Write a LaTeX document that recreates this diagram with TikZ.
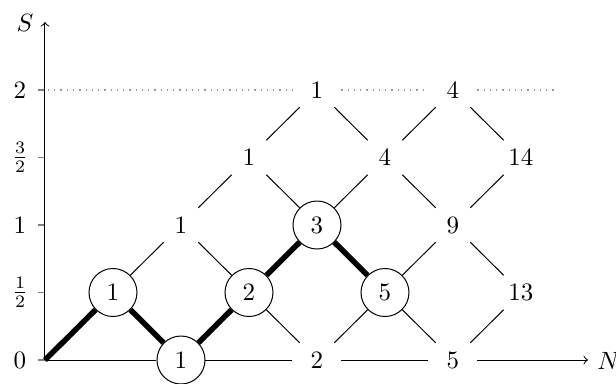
\documentclass[tikz,border=0pt]{standalone}
\begin{document}
\begin{tikzpicture}[x=0.4pt,y=-0.4pt,
  lat/.style={circle, minimum size=19.2pt, inner sep=0pt},
  ring/.style={lat, draw, line width=0.4pt},
  latline/.style={line width=0.4pt},
  heavypath/.style={line width=2.2pt},
  axline/.style={line width=0.4pt},
  axtick/.style={gray, line width=0.6pt},
  ticklab/.style={inner sep=0pt},
  guide/.style={dotted, gray!80, line width=0.5pt}]
\useasboundingbox (0,0) rectangle (616,383);
\coordinate (o) at (45,360);
\coordinate (stop) at (45,22);
\coordinate (ntop) at (588,360);
\coordinate (dstart) at (48,90);
\coordinate (dend) at (555,90);
% lattice nodes
\node[ring] (a11) at (113,292.5) {1};
\node[ring] (a20) at (181,360) {1};
\node[lat]  (a22) at (181,225) {1};
\node[ring] (a31) at (249,292.5) {2};
\node[lat]  (a33) at (249,157.5) {1};
\node[lat]  (a40) at (317,360) {2};
\node[ring] (a42) at (317,225) {3};
\node[lat]  (a44) at (317,90) {1};
\node[ring] (a51) at (385,292.5) {5};
\node[lat]  (a53) at (385,157.5) {4};
\node[lat]  (a60) at (453,360) {5};
\node[lat]  (a62) at (453,225) {9};
\node[lat]  (a64) at (453,90) {4};
\node[lat]  (a71) at (521,292.5) {13};
\node[lat]  (a73) at (521,157.5) {14};
% ticks and labels
\foreach \yy in {360,292.5,225,157.5,90} \draw[axtick] (38,\yy) -- (45,\yy);
\node[ticklab] (t0) at (20,360) {0};
\node[ticklab, font=\Large] (t1) at (20,292.5) {$\scriptstyle\frac{1}{2}$};
\node[ticklab] (t2) at (20,225) {1};
\node[ticklab, font=\Large] (t3) at (20,157.5) {$\scriptstyle\frac{3}{2}$};
\node[ticklab] (t4) at (20,90) {2};
% guide line
\draw[guide] (dstart) -- (a44);
\draw[guide] (a44) -- (a64);
\draw[guide] (a64) -- (dend);
% axes
\draw[axline,->] (o) -- (stop);
\draw[axline] (o) -- (a20);
\draw[axline] (a20) -- (a40);
\draw[axline] (a40) -- (a60);
\draw[axline,->] (a60) -- (ntop);
\node (slab) at (25,23) {$S$};
\node[anchor=west, inner sep=0pt] (nlab) at (597,361) {$N$};
% thin lattice edges
\foreach \p/\q in {a11/a22, a22/a31, a22/a33, a31/a40, a33/a42, a33/a44,
  a40/a51, a42/a53, a44/a53, a51/a60, a51/a62, a53/a62, a53/a64,
  a60/a71, a62/a71, a62/a73, a64/a73}
  \draw[latline] (\p) -- (\q);
% heavy path
\draw[heavypath] (o) -- (a11);
\draw[heavypath] (a11) -- (a20);
\draw[heavypath] (a20) -- (a31);
\draw[heavypath] (a31) -- (a42);
\draw[heavypath] (a42) -- (a51);
\end{tikzpicture}
\end{document}
